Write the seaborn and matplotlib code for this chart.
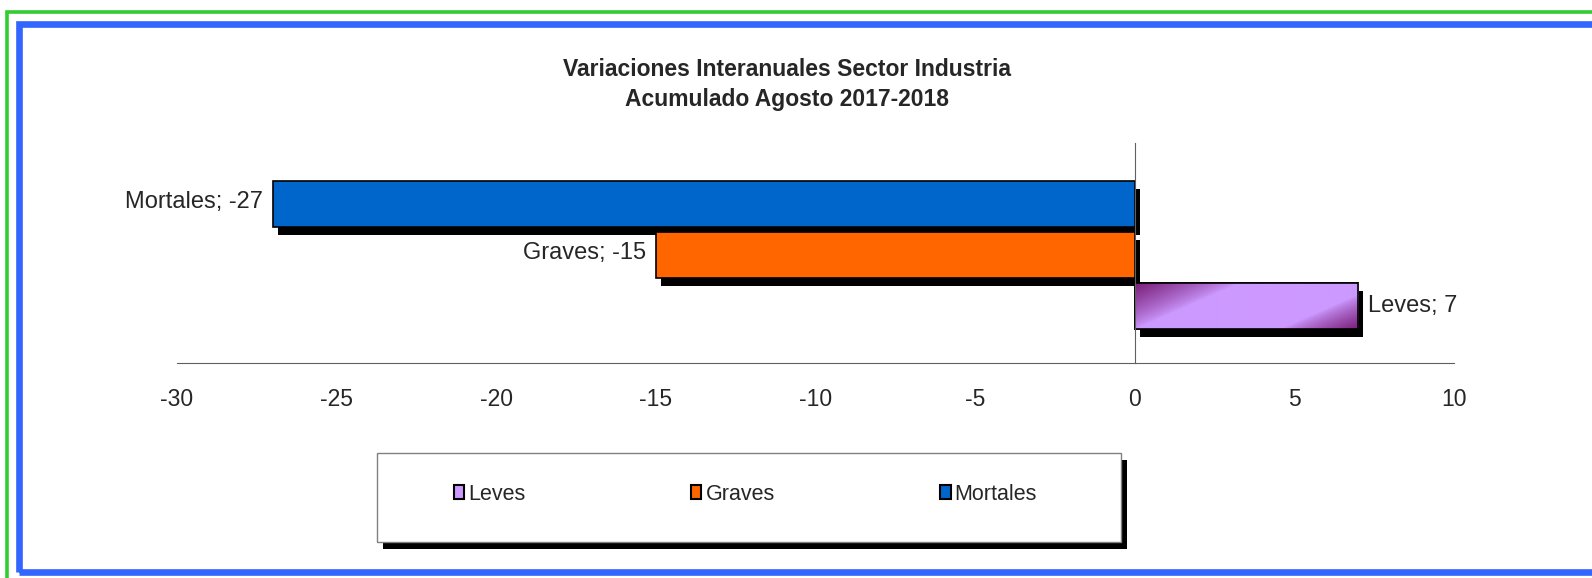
import numpy as np
import pandas as pd
import matplotlib.pyplot as plt
import matplotlib.colors as mcolors
import matplotlib.patheffects as pe
from matplotlib.patches import Rectangle, Patch
import seaborn as sns

# -----------------------------
# Data
# -----------------------------
series = ["Mortales", "Graves", "Leves"]
values = [-27, -15, 7]
legend_order = ["Leves", "Graves", "Mortales"]
xticks = [-30, -25, -20, -15, -10, -5, 0, 5, 10]
title_lines = ["Variaciones Interanuales Sector Industria", "Acumulado Agosto 2017-2018"]

colors = {"Mortales": "#0066CC", "Graves": "#FF6600", "Leves": "#CC99FF"}
leves_dark = "#7A1F7A"

df = pd.DataFrame({"grupo": ["Industria"] * len(series), "serie": series, "valor": values})

# -----------------------------
# Plot
# -----------------------------
sns.set_style("white")
plt.rcParams["font.family"] = ["Liberation Sans", "DejaVu Sans"]
plt.rcParams["axes.unicode_minus"] = False

W, H = 1592, 578
fig = plt.figure(figsize=(W / 100, H / 100), dpi=100)
ax = fig.add_axes([177 / W, 1 - 363 / H, (1454 - 177) / W, (363 - 143) / H])

sns.barplot(
    data=df, x="valor", y="grupo", hue="serie", hue_order=series,
    palette=colors, saturation=1, orient="h", width=0.8, gap=0.1,
    edgecolor="black", linewidth=1.2, legend=False, ax=ax,
)

shadow = [pe.SimplePatchShadow(offset=(3.6, -5.8), shadow_rgbFace="black", alpha=1.0), pe.Normal()]

for name, val, bar in zip(series, values, ax.patches):
    bar.set_path_effects(shadow)
    x0, y0 = bar.get_x(), bar.get_y()
    w, h = bar.get_width(), bar.get_height()
    yc = y0 + h / 2
    if name == "Leves":
        # diagonal purple gradient on the Leves bar
        gh, gw = 46, 218
        py, px = np.mgrid[0:gh, 0:gw]
        d1 = px + 2.2 * py
        d2 = (gw - 1 - px) + 2.2 * (gh - 1 - py)
        a = np.maximum(np.clip(1 - d1 / 100, 0, 1), np.clip(1 - d2 / 75, 0, 1)) ** 0.8
        light = np.array(mcolors.to_rgb(colors["Leves"]))
        dark = np.array(mcolors.to_rgb(leves_dark))
        img = light * (1 - a[..., None]) + dark * a[..., None]
        im = ax.imshow(img, extent=(x0, x0 + w, y0 + h, y0), aspect="auto",
                       interpolation="bilinear", zorder=bar.get_zorder() + 0.1)
        im.set_clip_path(bar)
        ax.add_patch(Rectangle((x0, y0), w, h, fill=False, edgecolor="black",
                               lw=1.2, zorder=bar.get_zorder() + 0.2))
    label = f"{name}; {val}"
    if val < 0:
        ax.annotate(label, (val, yc), xytext=(-7, 1.5), textcoords="offset points",
                    ha="right", va="center", fontsize=17)
    else:
        ax.annotate(label, (val, yc), xytext=(7, 0), textcoords="offset points",
                    ha="left", va="center", fontsize=17)

ax.set_xlim(-30, 10)
ax.set_ylim(0.567, -0.585)
ax.set_xticks(xticks)
ax.set_yticks([])
ax.set_xlabel("")
ax.set_ylabel("")
for s in ["top", "right"]:
    ax.spines[s].set_visible(False)
ax.spines["left"].set_position(("data", 0))
ax.spines["left"].set_color("#606060")
ax.spines["bottom"].set_color("#606060")
ax.tick_params(axis="x", length=6, width=1, color="#606060", pad=12, labelsize=16.5)

fig.text(787 / W, 1 - 76 / H, title_lines[0], ha="center", va="baseline",
         fontsize=16.5, fontweight="bold")
fig.text(787 / W, 1 - 106 / H, title_lines[1], ha="center", va="baseline",
         fontsize=16.5, fontweight="bold")

# legend box with shadow
box = Rectangle((377 / W, 1 - 542 / H), (1121 - 377) / W, 89 / H, transform=fig.transFigure,
                facecolor="white", edgecolor="#808080", lw=1,
                path_effects=[pe.SimplePatchShadow(offset=(4, -5), shadow_rgbFace="black", alpha=1.0),
                              pe.Normal()])
fig.patches.append(box)

handles = [Patch(facecolor=colors[s], edgecolor="black", lw=1.5) for s in legend_order]
fig.legend(handles, legend_order, loc="center left", bbox_to_anchor=(454 / W, 1 - 494 / H),
           ncol=3, frameon=False, fontsize=15.5, handlelength=0.47, handleheight=0.6,
           handletextpad=0.19, columnspacing=7.7, borderaxespad=0, borderpad=0)

# outer frames
fig.patches.append(Rectangle((6.5 / W, -0.1), 1.2, 1 - 12 / H + 0.1, transform=fig.transFigure,
                             fill=False, edgecolor="#33CC33", lw=2.6))
fig.patches.append(Rectangle((19 / W, 1 - 572 / H), 1.2, (572 - 23.5) / H, transform=fig.transFigure,
                             fill=False, edgecolor="#3366FF", lw=4.8))

fig.savefig("out.png", dpi=100, facecolor="white")
